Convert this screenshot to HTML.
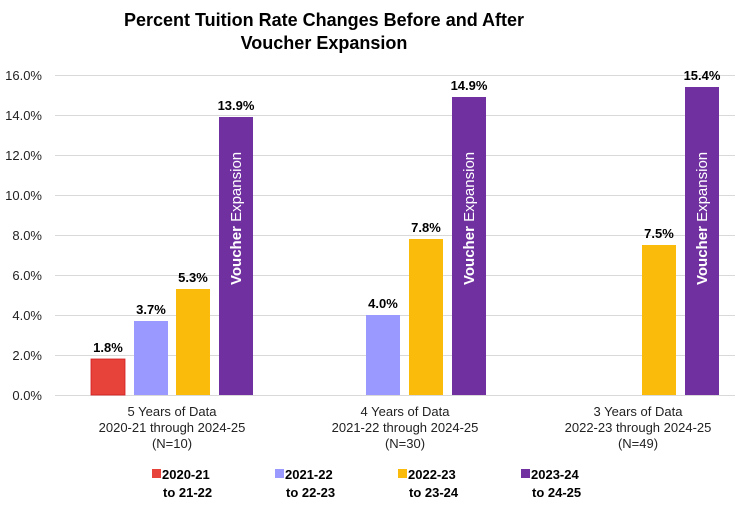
<!DOCTYPE html>
<html><head><style>
body{margin:0;background:#fff;}
svg text{font-family:"Liberation Sans",Arial,sans-serif;}
</style></head><body>
<svg width="738" height="502" xmlns="http://www.w3.org/2000/svg">
<rect width="738" height="502" fill="#fff"/>
<text x="324" y="26" font-size="18" font-weight="bold" text-anchor="middle">Percent Tuition Rate Changes Before and After</text>
<text x="324" y="49" font-size="18" font-weight="bold" text-anchor="middle">Voucher Expansion</text>
<g stroke="#d9d9d9" stroke-width="1">
<line x1="55" x2="735" y1="75.5" y2="75.5"/><line x1="55" x2="735" y1="115.5" y2="115.5"/>
<line x1="55" x2="735" y1="155.5" y2="155.5"/><line x1="55" x2="735" y1="195.5" y2="195.5"/>
<line x1="55" x2="735" y1="235.5" y2="235.5"/><line x1="55" x2="735" y1="275.5" y2="275.5"/>
<line x1="55" x2="735" y1="315.5" y2="315.5"/><line x1="55" x2="735" y1="355.5" y2="355.5"/>
<line x1="55" x2="735" y1="395.5" y2="395.5"/>
</g>
<g font-size="13" text-anchor="end" fill="#222">
<text x="42" y="80">16.0%</text><text x="42" y="120">14.0%</text><text x="42" y="160">12.0%</text>
<text x="42" y="200">10.0%</text><text x="42" y="240">8.0%</text><text x="42" y="280">6.0%</text>
<text x="42" y="320">4.0%</text><text x="42" y="360">2.0%</text><text x="42" y="400">0.0%</text>
</g>
<rect x="91" y="359" width="34" height="36" fill="#E8433A" stroke="#d01c1c" stroke-width="0.8"/>
<rect x="134" y="321" width="34" height="74" fill="#9999FF"/>
<rect x="176" y="289" width="34" height="106" fill="#FBBB0A"/>
<rect x="219" y="117" width="34" height="278" fill="#7030A0"/>
<rect x="366" y="315" width="34" height="80" fill="#9999FF"/>
<rect x="409" y="239" width="34" height="156" fill="#FBBB0A"/>
<rect x="452" y="97" width="34" height="298" fill="#7030A0"/>
<rect x="642" y="245" width="34" height="150" fill="#FBBB0A"/>
<rect x="685" y="87" width="34" height="308" fill="#7030A0"/>
<g font-size="13" font-weight="bold" text-anchor="middle">
<text x="108" y="352">1.8%</text><text x="151" y="314">3.7%</text><text x="193" y="282">5.3%</text><text x="236" y="110">13.9%</text>
<text x="383" y="308">4.0%</text><text x="426" y="232">7.8%</text><text x="469" y="90">14.9%</text>
<text x="659" y="238">7.5%</text><text x="702" y="80">15.4%</text>
</g>
<g font-size="15" fill="#fff">
<text transform="translate(241,285) rotate(-90)"><tspan font-weight="bold">Voucher</tspan> Expansion</text>
<text transform="translate(474,285) rotate(-90)"><tspan font-weight="bold">Voucher</tspan> Expansion</text>
<text transform="translate(707,285) rotate(-90)"><tspan font-weight="bold">Voucher</tspan> Expansion</text>
</g>
<g font-size="13" text-anchor="middle" fill="#222">
<text x="172" y="416">5 Years of Data</text><text x="172" y="432">2020-21 through 2024-25</text><text x="172" y="448">(N=10)</text>
<text x="405" y="416">4 Years of Data</text><text x="405" y="432">2021-22 through 2024-25</text><text x="405" y="448">(N=30)</text>
<text x="638" y="416">3 Years of Data</text><text x="638" y="432">2022-23 through 2024-25</text><text x="638" y="448">(N=49)</text>
</g>
<rect x="152" y="469" width="9" height="9" fill="#E8433A"/>
<rect x="275" y="469" width="9" height="9" fill="#9999FF"/>
<rect x="398" y="469" width="9" height="9" fill="#FBBB0A"/>
<rect x="521" y="469" width="9" height="9" fill="#7030A0"/>
<g font-size="13" font-weight="bold">
<text x="162" y="479">2020-21</text><text x="163" y="497">to 21-22</text>
<text x="285" y="479">2021-22</text><text x="286" y="497">to 22-23</text>
<text x="408" y="479">2022-23</text><text x="409" y="497">to 23-24</text>
<text x="531" y="479">2023-24</text><text x="532" y="497">to 24-25</text>
</g>
</svg>
</body></html>
